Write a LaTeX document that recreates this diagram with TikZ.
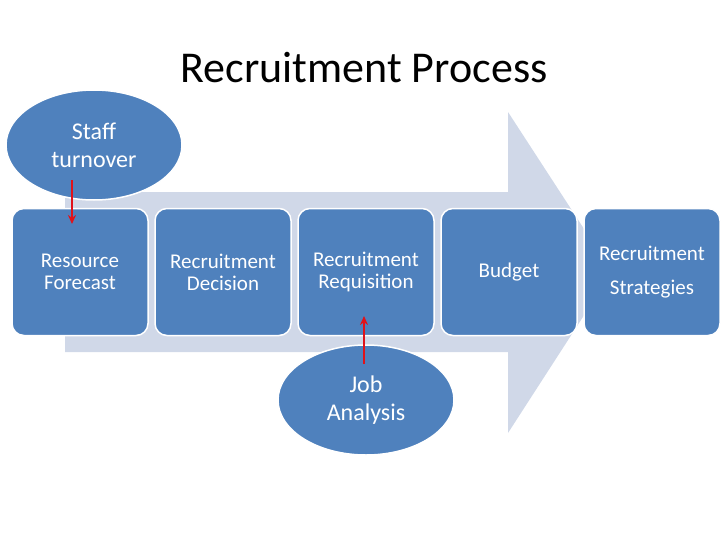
\documentclass[tikz,border=0pt]{standalone}
\usepackage{fontspec}
\setmainfont{Carlito}
\usetikzlibrary{shapes.geometric,arrows.meta}
\definecolor{bx}{HTML}{4F81BD}
\definecolor{arr}{HTML}{D0D8E8}
\definecolor{rd}{HTML}{E0121A}
\begin{document}
\begin{tikzpicture}[x=1pt,y=-1pt,
  box/.style={draw=white,line width=1.5pt,fill=bx,rounded corners=12pt,minimum width=136pt,minimum height=127pt,text=white,align=center,font=\fontsize{21}{22}\selectfont},
  oval/.style={ellipse,draw=white,line width=1.5pt,fill=bx,minimum width=176pt,minimum height=110pt,inner sep=0pt,text=white,align=center,font=\fontsize{24}{28}\selectfont},
  red/.style={draw=rd,line width=1.8pt,-{Stealth[length=9pt,width=8pt]}}]
\useasboundingbox (0,0) rectangle (728,546);
\node[font=\fontsize{44}{48}\selectfont] (t) at (364,68) {Recruitment Process};
\fill[arr] (65,192) -- (508,192) -- (508,112) -- (612,272) -- (508,433) -- (508,352) -- (65,352) -- cycle;
\node[box] (b1) at (80,272) {Resource\\Forecast};
\node[box] (b2) at (223,272) {Recruitment\\Decision};
\node[box] (b3) at (366,272) {Recruitment\\Requisition};
\node[box] (b4) at (509,272) {Budget};
\node[box,font=\fontsize{21}{34}\selectfont] (b5) at (652,272) {Recruitment\\Strategies};
\node[oval] (s) at (94,145) {Staff\\turnover};
\node[oval] (j) at (366,400) {Job\\Analysis};
\coordinate (s1) at (72,180);
\coordinate (s2) at (72,224);
\coordinate (j1) at (364,364);
\coordinate (j2) at (364,316);
\draw[red] (s1) -- (s2);
\draw[red] (j1) -- (j2);
\end{tikzpicture}
\end{document}
